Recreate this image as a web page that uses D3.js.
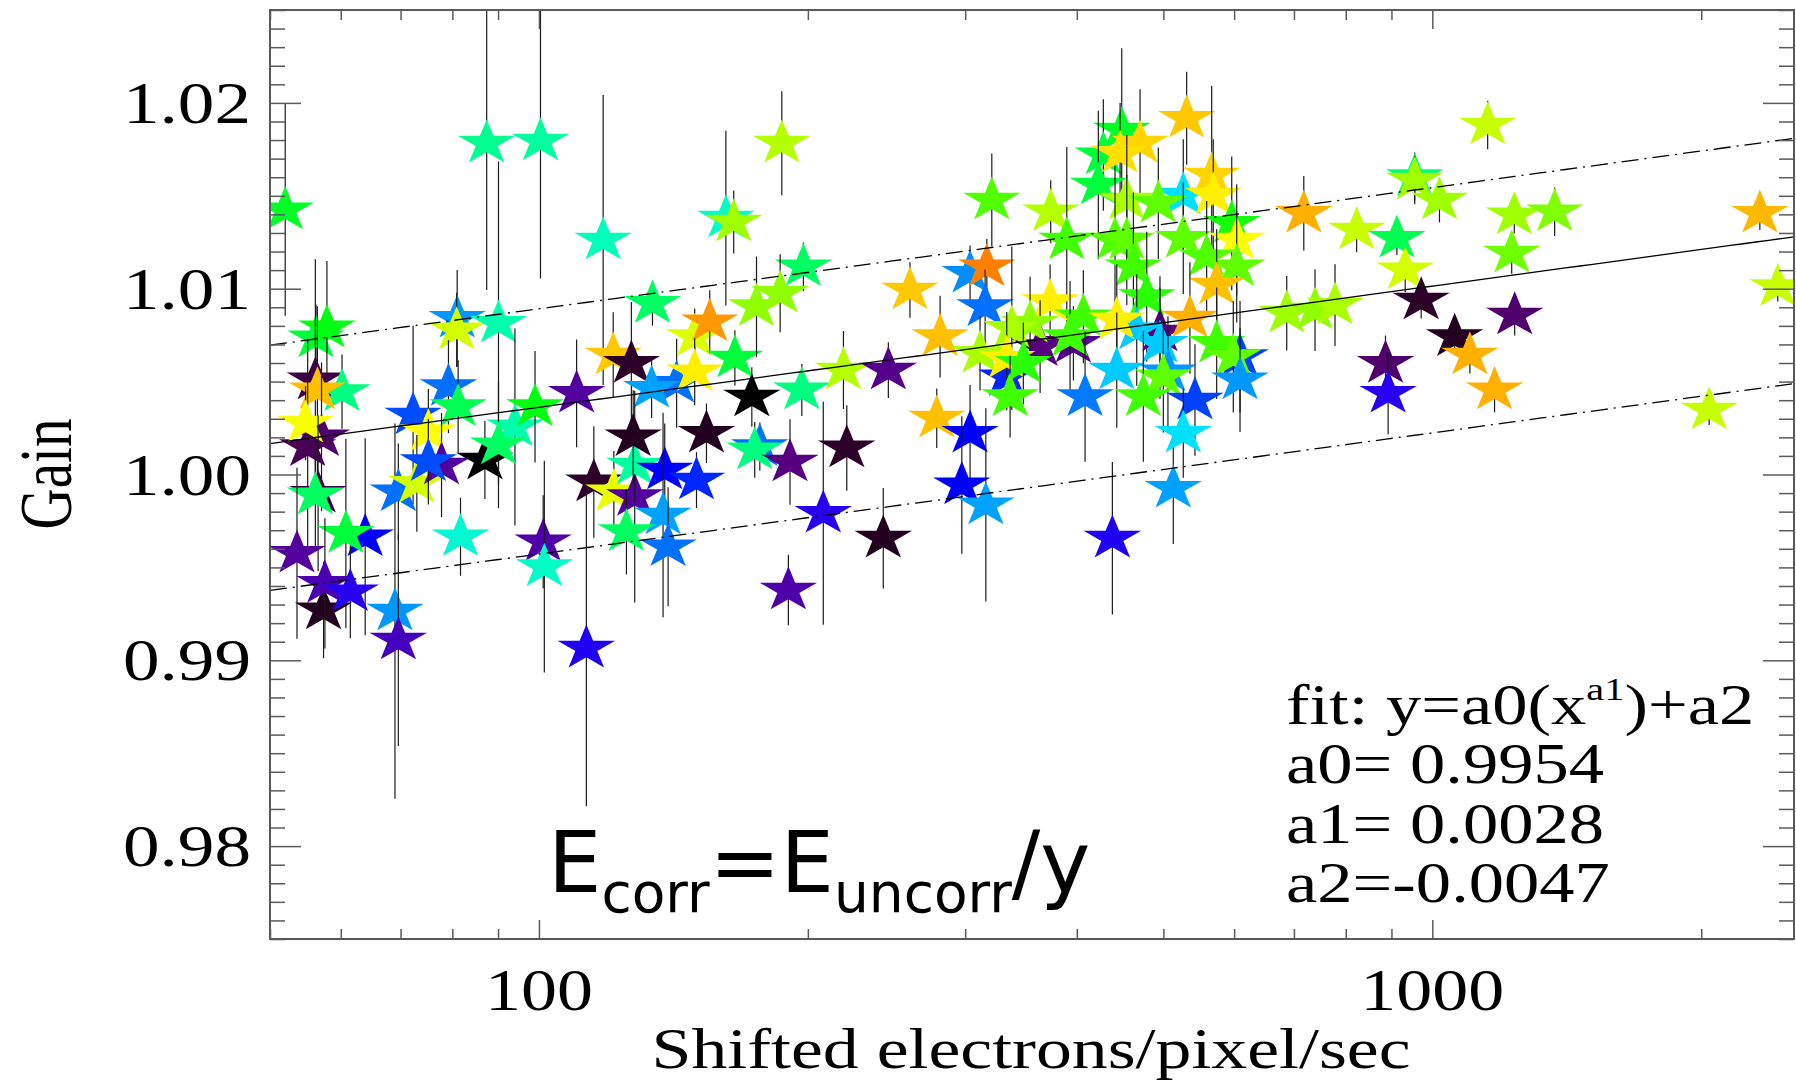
<!DOCTYPE html>
<html>
<head>
<meta charset="utf-8">
<script src="https://cdn.jsdelivr.net/npm/d3@7"></script>
<style>
  body { margin: 0; background: #fff; }
</style>
</head>
<body>
<svg id="chart" width="1796" height="1081"></svg>
<script>
// shifted electrons/pixel/sec
const rate = [
  52.0, 87.4, 100.4, 118.0, 161.9, 165.2, 56.3, 57.9, 81.0, 80.9,
  90.1, 134.0, 149.4, 155.3, 165.7, 121.1, 126.9, 142.6, 133.7, 149.4,
  110.2, 94.0, 99.0, 79.2, 81.2, 72.3, 75.2, 56.2, 60.2, 56.5,
  57.1, 55.1, 54.8, 56.6, 56.2, 63.9, 60.8, 53.6, 57.4, 57.6,
  61.5, 69.0, 69.6, 69.6, 73.0, 77.8, 75.2, 87.0, 90.1, 81.7,
  101.1, 101.4, 113.0, 115.2, 121.3, 128.0, 128.0, 127.5, 138.3, 150.1,
  154.0, 137.7, 125.3, 139.5, 173.1, 176.7, 174.4, 187.0, 197.7, 186.2,
  175.2, 196.9, 219.2, 246.1, 260.2, 281.2, 278.8, 303.8, 221.1, 191.0,
  208.1, 190.2, 242.9, 297.4, 316.4, 438.4, 512.9, 321.3, 374.0, 389.8,
  303.8, 317.2, 315.8, 373.4, 396.5, 363.9, 354.6, 338.3, 406.8, 393.1,
  311.7, 333.9, 333.9, 348.5, 336.8, 408.6,
  449.1, 428.3, 470.8, 447.2, 530.9, 422.8, 526.3, 455.0, 493.5, 566.3,
  568.6, 596.3, 604.0, 441.4, 455.0, 526.3, 559.0, 462.8, 604.0, 573.6,
  479.0, 495.6, 466.8, 443.4, 535.4, 495.6, 573.6, 609.2, 598.7, 443.4,
  505.9, 499.9, 474.8, 609.2, 542.4, 526.3,
  718.0, 687.1, 739.1, 778.2, 822.8, 912.7, 932.5, 955.6, 955.6, 1018.6,
  1153.3, 1235.2, 1370.7, 1227.0, 2326, 2436, 971.7, 1236.5, 1059.3, 1101.6,
  886.3, 892.3, 1174.0, 2041
];
const gain = [
  1.01424, 1.01783, 1.01795, 1.01262, 1.0138, 1.01359, 1.00735, 1.00789, 1.00841, 1.00778,
  1.00814, 1.00921, 1.00742, 1.00822, 1.00627, 1.00643, 1.00598, 1.00491, 1.00464, 1.00553,
  1.00437, 1.00256, 1.00365, 1.00473, 1.00365, 1.0032, 1.0023, 1.00509, 1.00446, 1.00455,
  1.00203, 1.0015, 1.00276, 0.99899, 0.9989, 0.99665, 0.99683, 0.99576, 0.99271, 0.99414,
  0.99369, 0.99265, 0.99109, 0.99907, 0.99952, 1.00051, 1.00069, 1.00078, 1.00159, 0.99665,
  0.99638, 0.99504, 0.99065, 0.9996, 0.99907, 0.99881, 1.00051, 1.00203, 1.00024, 0.9997,
  1.00222, 0.99782, 0.99692, 0.99611, 1.00417, 1.0015, 1.00132, 1.01783, 1.01118, 1.00975,
  1.00903, 1.00455, 1.00562, 1.00562, 1.00993, 1.00742, 1.00303, 1.00222, 1.00143, 1.00067,
  0.99791, 0.99378, 0.99657, 0.99944, 0.99836, 0.99657, 0.99926, 1.01477, 1.01414, 1.01262,
  1.01083, 1.01118, 1.00903, 1.0093, 1.00706, 1.00688, 1.00814, 1.00787, 1.00849, 1.00742,
  1.00652, 1.00526, 1.00625, 1.00598, 1.00419, 1.00419,
  1.01854, 1.0172, 1.01783, 1.01729, 1.01917, 1.01558, 1.01504, 1.01477, 1.0146, 1.01612,
  1.01504, 1.01352, 1.01262, 1.01262, 1.01262, 1.01271, 1.01172, 1.01118, 1.01118, 1.0102,
  1.00957, 1.00767, 1.00778, 1.00832, 1.00842, 1.00706, 1.00706, 1.00634, 1.00634, 1.00562,
  1.00552, 1.00526, 1.00419, 1.00509, 1.00401, 1.00222,
  1.01406, 1.00868, 1.00885, 1.00912, 1.01316, 1.01271, 1.01101, 1.01603, 1.01585, 1.01477,
  1.01881, 1.01397, 1.01414, 1.01191, 1.01406, 1.01011, 1.00939, 1.00858, 1.00742, 1.00643,
  1.00598, 1.00437, 1.00455, 1.00347
];
const gainErr = [
  0.0057, 0.0079, 0.0074, 0.0078, 0.0047, 0.0017, 0.0018, 0.0036, 0.0026, 0.0020,
  0.0087, 0.0012, 0.0015, 0.0017, 0.0015, 0.0023, 0.0033, 0.0024, 0.0016, 0.0018,
  0.0029, 0.0053, 0.0030, 0.0025, 0.0025, 0.0048, 0.0023, 0.0065, 0.0020, 0.0045,
  0.0040, 0.0058, 0.0020, 0.0042, 0.0030, 0.0053, 0.0051, 0.0046, 0.0026, 0.0035,
  0.0025, 0.0101, 0.0057, 0.0026, 0.0026, 0.0028, 0.0023, 0.0021, 0.0034, 0.0021,
  0.0025, 0.0057, 0.0085, 0.0030, 0.0022, 0.0057, 0.0020, 0.0025, 0.0025, 0.0015,
  0.0016, 0.0055, 0.0023, 0.0032, 0.0016, 0.0013, 0.0015, 0.0028, 0.0013, 0.0021,
  0.0027, 0.0014, 0.0021, 0.0015, 0.0015, 0.0022, 0.0016, 0.0026, 0.0023, 0.0023,
  0.0060, 0.0019, 0.0027, 0.0037, 0.0052, 0.0041, 0.0030, 0.0025, 0.0017, 0.0050,
  0.0015, 0.0015, 0.0020, 0.0020, 0.0020, 0.0025, 0.0025, 0.0044, 0.0025, 0.0030,
  0.0020, 0.0018, 0.0025, 0.0022, 0.0022, 0.0035,
  0.0044, 0.0030, 0.0029, 0.0027, 0.0025, 0.0040, 0.0030, 0.0035, 0.0030, 0.0048,
  0.0030, 0.0036, 0.0030, 0.0040, 0.0035, 0.0030, 0.0030, 0.0040, 0.0030, 0.0030,
  0.0035, 0.0030, 0.0030, 0.0030, 0.0030, 0.0030, 0.0030, 0.0030, 0.0030, 0.0031,
  0.0030, 0.0030, 0.0035, 0.0028, 0.0030, 0.0024,
  0.0020, 0.0020, 0.0022, 0.0022, 0.0012, 0.0009, 0.0012, 0.0013, 0.0013, 0.0012,
  0.0013, 0.0010, 0.0013, 0.0011, 0.0009, 0.0008, 0.0010, 0.0011, 0.0010, 0.0010,
  0.0015, 0.0022, 0.0012, 0.0008
];
// colour-table value of each point (0 = black ... 1 = red)
const colorVal = [
  0.65, 0.59, 0.58, 0.56, 0.55, 0.75, 0.64, 0.66, 0.43, 0.80,
  0.57, 0.62, 0.81, 0.94, 0.64, 0.89, 0.05, 0.39, 0.44, 0.86,
  0.17, 0.57, 0.66, 0.39, 0.63, 0.36, 0.85, 0.08, 0.60, 0.90,
  0.12, 0.10, 0.84, 0.09, 0.62, 0.30, 0.64, 0.17, 0.04, 0.19,
  0.25, 0.43, 0.20, 0.39, 0.80, 0.17, 0.36, 0.00, 0.62, 0.54,
  0.18, 0.55, 0.26, 0.05, 0.82, 0.17, 0.58, 0.04, 0.30, 0.33,
  0.04, 0.44, 0.62, 0.39, 0.00, 0.39, 0.60, 0.77, 0.62, 0.74,
  0.74, 0.60, 0.77, 0.15, 0.89, 0.90, 0.90, 0.30, 0.05, 0.14,
  0.25, 0.18, 0.04, 0.30, 0.44, 0.26, 0.44, 0.70, 0.77, 0.69,
  0.42, 0.96, 0.39, 0.86, 0.15, 0.14, 0.74, 0.76, 0.69, 0.69,
  0.76, 0.33, 0.86, 0.68, 0.69, 0.40,
  0.65, 0.64, 0.88, 0.87, 0.89, 0.64, 0.50, 0.76, 0.71, 0.88,
  0.86, 0.67, 0.85, 0.70, 0.71, 0.71, 0.70, 0.69, 0.71, 0.90,
  0.68, 0.14, 0.48, 0.86, 0.92, 0.48, 0.69, 0.35, 0.71, 0.48,
  0.43, 0.71, 0.69, 0.43, 0.35, 0.50,
  0.92, 0.75, 0.74, 0.76, 0.79, 0.63, 0.80, 0.60, 0.75, 0.75,
  0.79, 0.75, 0.73, 0.72, 0.91, 0.79, 0.05, 0.12, 0.04, 0.92,
  0.12, 0.25, 0.92, 0.79
];

const fitA0 = 0.9954, fitA1 = 0.0028, fitA2 = -0.0047;
const bandOffsets = [0.0053, -0.0079];

const yTickValues = [0.98, 0.99, 1.00, 1.01, 1.02];
const yTickLabels = ["0.98", "0.99", "1.00", "1.01", "1.02"];
const xTickValues = [100, 1000];
const xTickLabels = ["100", "1000"];
const fitLabels = ["a0= 0.9954", "a1= 0.0028", "a2=-0.0047"];

const colorStops = [0, 0.05, 0.10, 0.14, 0.18, 0.25, 0.30, 0.35, 0.39, 0.43, 0.47, 0.50, 0.55,
  0.59, 0.63, 0.66, 0.69, 0.72, 0.75, 0.79, 0.82, 0.85, 0.87, 0.89, 0.92, 0.96, 1.0];
const colorHex = ["#000000", "#2c0028", "#4a0058", "#560080", "#5000a8", "#2800f0", "#0000ff",
  "#0040ff", "#0070ff", "#0098ff", "#00c0ff", "#00e0ff", "#00ffc8", "#00ff90", "#00ff50",
  "#00ff10", "#40ff00", "#70ff00", "#a0ff00", "#c8ff00", "#e8ff00", "#ffff00", "#ffe000",
  "#ffc800", "#ffb000", "#ff8000", "#ff0000"];

const svg = d3.select("#chart");
const plot = { left: 270, right: 1794, top: 10, bottom: 939 };
const serif = "'Liberation Serif', 'Times New Roman', serif";
const axisColor = "#5a5a5a";

const x = d3.scaleLog().domain([50, 2540]).range([plot.left, plot.right]);
const y = d3.scaleLinear().domain([0.975, 1.025]).range([plot.bottom, plot.top]);
const color = d3.scaleLinear().domain(colorStops).range(colorHex).interpolate(d3.interpolateRgb);

svg.append("rect").attr("width", 1796).attr("height", 1081).attr("fill", "#fff");

svg.append("clipPath").attr("id", "plotclip").append("rect")
  .attr("x", plot.left).attr("y", plot.top)
  .attr("width", plot.right - plot.left).attr("height", plot.bottom - plot.top);

const g = svg.append("g").attr("clip-path", "url(#plotclip)");

// error bar then star, point by point
const starPath = d3.symbol().type(d3.symbolStar).size(636)();
rate.forEach((r, i) => {
  g.append("line")
    .attr("x1", x(r)).attr("x2", x(r))
    .attr("y1", y(gain[i] - gainErr[i])).attr("y2", y(gain[i] + gainErr[i]))
    .attr("stroke", "#1a1a1a").attr("stroke-width", 1.2);
  g.append("path")
    .attr("d", starPath)
    .attr("transform", `translate(${x(r)},${y(gain[i])}) scale(1.27,1)`)
    .attr("fill", color(colorVal[i]));
});

// fit curve and band
const fit = v => fitA0 * Math.pow(v, fitA1) + fitA2;
const xs = d3.range(0, 121).map(k => 50 * Math.pow(2540 / 50, k / 120));
const curve = off => d3.line().x(d => x(d)).y(d => y(fit(d) + off))(xs);

g.append("path").attr("d", curve(0)).attr("fill", "none")
  .attr("stroke", "#000").attr("stroke-width", 1.3);
bandOffsets.forEach(off => {
  g.append("path").attr("d", curve(off)).attr("fill", "none")
    .attr("stroke", "#000").attr("stroke-width", 1.3)
    .attr("stroke-dasharray", "17,6,2,6");
});

// axes, ticks on all four sides pointing inward
const xMinor = x.ticks().filter(v => !xTickValues.includes(v));
const yMinor = y.ticks(50).filter(v => !yTickValues.some(t => Math.abs(t - v) < 1e-9));

function addAxis(axis, tx, ty) {
  const a = svg.append("g").attr("transform", `translate(${tx},${ty})`).call(axis);
  a.select(".domain").remove();
  a.selectAll("line").attr("stroke", axisColor).attr("stroke-width", 1.5);
  a.selectAll("text").remove();
}
addAxis(d3.axisBottom(x).tickValues(xMinor).tickSize(-10), 0, plot.bottom);
addAxis(d3.axisBottom(x).tickValues(xTickValues).tickSize(-19), 0, plot.bottom);
addAxis(d3.axisTop(x).tickValues(xMinor).tickSize(-10), 0, plot.top);
addAxis(d3.axisTop(x).tickValues(xTickValues).tickSize(-19), 0, plot.top);
addAxis(d3.axisLeft(y).tickValues(yMinor).tickSize(-15), plot.left, 0);
addAxis(d3.axisLeft(y).tickValues(yTickValues).tickSize(-31), plot.left, 0);
addAxis(d3.axisRight(y).tickValues(yMinor).tickSize(-15), plot.right, 0);
addAxis(d3.axisRight(y).tickValues(yTickValues).tickSize(-31), plot.right, 0);

svg.append("rect")
  .attr("x", plot.left).attr("y", plot.top)
  .attr("width", plot.right - plot.left).attr("height", plot.bottom - plot.top)
  .attr("fill", "none").attr("stroke", axisColor).attr("stroke-width", 2);

// tick labels
yTickValues.forEach((v, i) => {
  svg.append("text")
    .attr("transform", `translate(251,${y(v) + 20}) scale(1.22,1)`)
    .attr("text-anchor", "end")
    .attr("font-family", serif).attr("font-size", 60)
    .text(yTickLabels[i]);
});
xTickValues.forEach((v, i) => {
  svg.append("text")
    .attr("transform", `translate(${x(v)},1010) scale(1.22,1)`)
    .attr("text-anchor", "middle")
    .attr("font-family", serif).attr("font-size", 59)
    .text(xTickLabels[i]);
});

// axis titles
svg.append("text")
  .attr("transform", "translate(1031,1068) scale(1.27,1)")
  .attr("text-anchor", "middle")
  .attr("font-family", serif).attr("font-size", 56.5)
  .text("Shifted electrons/pixel/sec");

svg.append("text")
  .attr("transform", "translate(71,474) scale(1.3,1) rotate(-90)")
  .attr("text-anchor", "middle")
  .attr("font-family", serif).attr("font-size", 57)
  .text("Gain");

// fit annotation
const fitText = svg.append("text")
  .attr("transform", "translate(1286,724) scale(1.26,1)")
  .attr("font-family", serif).attr("font-size", 56);
fitText.append("tspan").text("fit: y=a0(x");
fitText.append("tspan").attr("font-size", 32).attr("dy", -24).text("a1");
fitText.append("tspan").attr("dy", 24).text(")+a2");

fitLabels.forEach((t, i) => {
  svg.append("text")
    .attr("transform", `translate(1286,${783.3 + i * 59.2}) scale(1.26,1)`)
    .attr("font-family", serif).attr("font-size", 56)
    .text(t);
});

// correction formula
const eq = svg.append("text")
  .attr("x", 548).attr("y", 892)
  .attr("font-family", "'DejaVu Sans', sans-serif").attr("font-size", 84.6);
eq.append("tspan").text("E");
eq.append("tspan").attr("font-size", 55).attr("dy", 20).text("corr");
eq.append("tspan").attr("dy", -20).text("=E");
eq.append("tspan").attr("font-size", 55).attr("dy", 20).text("uncorr");
eq.append("tspan").attr("dy", -20).text("/y");
</script>
</body>
</html>
